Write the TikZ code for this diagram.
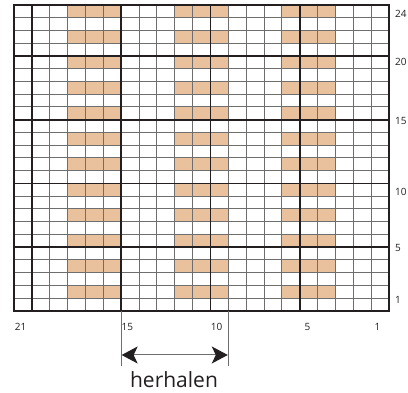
\documentclass[tikz,border=0pt]{standalone}
\usepackage{fontspec}
\setmainfont{Open Sans}
\usetikzlibrary{arrows.meta}
\definecolor{beige}{HTML}{E9C19C}
\definecolor{thingrid}{HTML}{6E6E6E}
\definecolor{thickgrid}{HTML}{231F20}
\definecolor{txt}{HTML}{231F20}
\tikzset{
  thinline/.style={draw=thingrid,line width=1pt},
  thickline/.style={draw=thickgrid,line width=1.7pt},
  lbl/.style={font=\fontsize{10}{11}\selectfont,text=txt,inner sep=0pt},
  guide/.style={draw=thingrid,line width=1pt},
}
\begin{document}
\begin{tikzpicture}[x=1pt,y=-1pt]
\useasboundingbox (0,0) rectangle (408,393);
\def\L{14}\def\R{389}\def\T{5}\def\B{311}
\pgfmathsetmacro{\cw}{375/21}
\pgfmathsetmacro{\rh}{306/24}
% coloured cells: columns 4-6, 10-12, 16-18 (from right), even rows
\foreach \g in {4,10,16}{
  \foreach \r in {2,4,...,24}{
    \fill[beige] ({\R-(\g+2)*\cw},{\B-\r*\rh}) rectangle ({\R-(\g-1)*\cw},{\B-(\r-1)*\rh});
  }
}
% thin grid
\foreach \c in {1,...,20}{
  \draw[thinline] ({\R-\c*\cw},\T) -- ({\R-\c*\cw},\B);
}
\foreach \r in {1,...,23}{
  \draw[thinline] (\L,{\B-\r*\rh}) -- (\R,{\B-\r*\rh});
}
% thick grid
\foreach \c in {5,10,15,20}{
  \draw[thickline] ({\R-\c*\cw},\T) -- ({\R-\c*\cw},\B);
}
\foreach \r in {5,10,15,20}{
  \draw[thickline] (\L,{\B-\r*\rh}) -- (\R,{\B-\r*\rh});
}
\draw[thickline] (\L,\T) rectangle (\R,\B);
% row labels
\node[lbl,anchor=west] (r24) at (395,14) {24};
\node[lbl,anchor=west] (r20) at (395,62) {20};
\node[lbl,anchor=west] (r15) at (395,121) {15};
\node[lbl,anchor=west] (r10) at (395,192) {10};
\node[lbl,anchor=west] (r5) at (395,248) {5};
\node[lbl,anchor=west] (r1) at (395,300) {1};
% column labels
\node[lbl] (c21) at (20.5,326.5) {21};
\node[lbl,anchor=west] (c15) at (121.5,326.5) {15};
\node[lbl,anchor=east] (c10) at (222.5,326.5) {10};
\node[lbl] (c5) at (307.5,326.5) {5};
\node[lbl] (c1) at (377.5,326.5) {1};
% repeat marker
\coordinate (ltop) at ({\R-15*\cw},\B);
\coordinate (lbot) at ({\R-15*\cw},366);
\coordinate (rtop) at ({\R-9*\cw},\B);
\coordinate (rbot) at ({\R-9*\cw},366);
\coordinate (al) at ({\R-15*\cw+0.5},355);
\coordinate (ar) at ({\R-9*\cw-0.5},355);
\draw[guide] (ltop) -- (lbot);
\draw[guide] (rtop) -- (rbot);
\draw[guide,{Stealth[length=16pt,width=17pt,inset=4pt,color=txt]}-{Stealth[length=16pt,width=17pt,inset=4pt,color=txt]}] (al) -- (ar);
\node[font=\fontsize{21}{24}\selectfont,text=txt,inner sep=0pt] (herh) at (174,380) {herhalen};
\end{tikzpicture}
\end{document}
